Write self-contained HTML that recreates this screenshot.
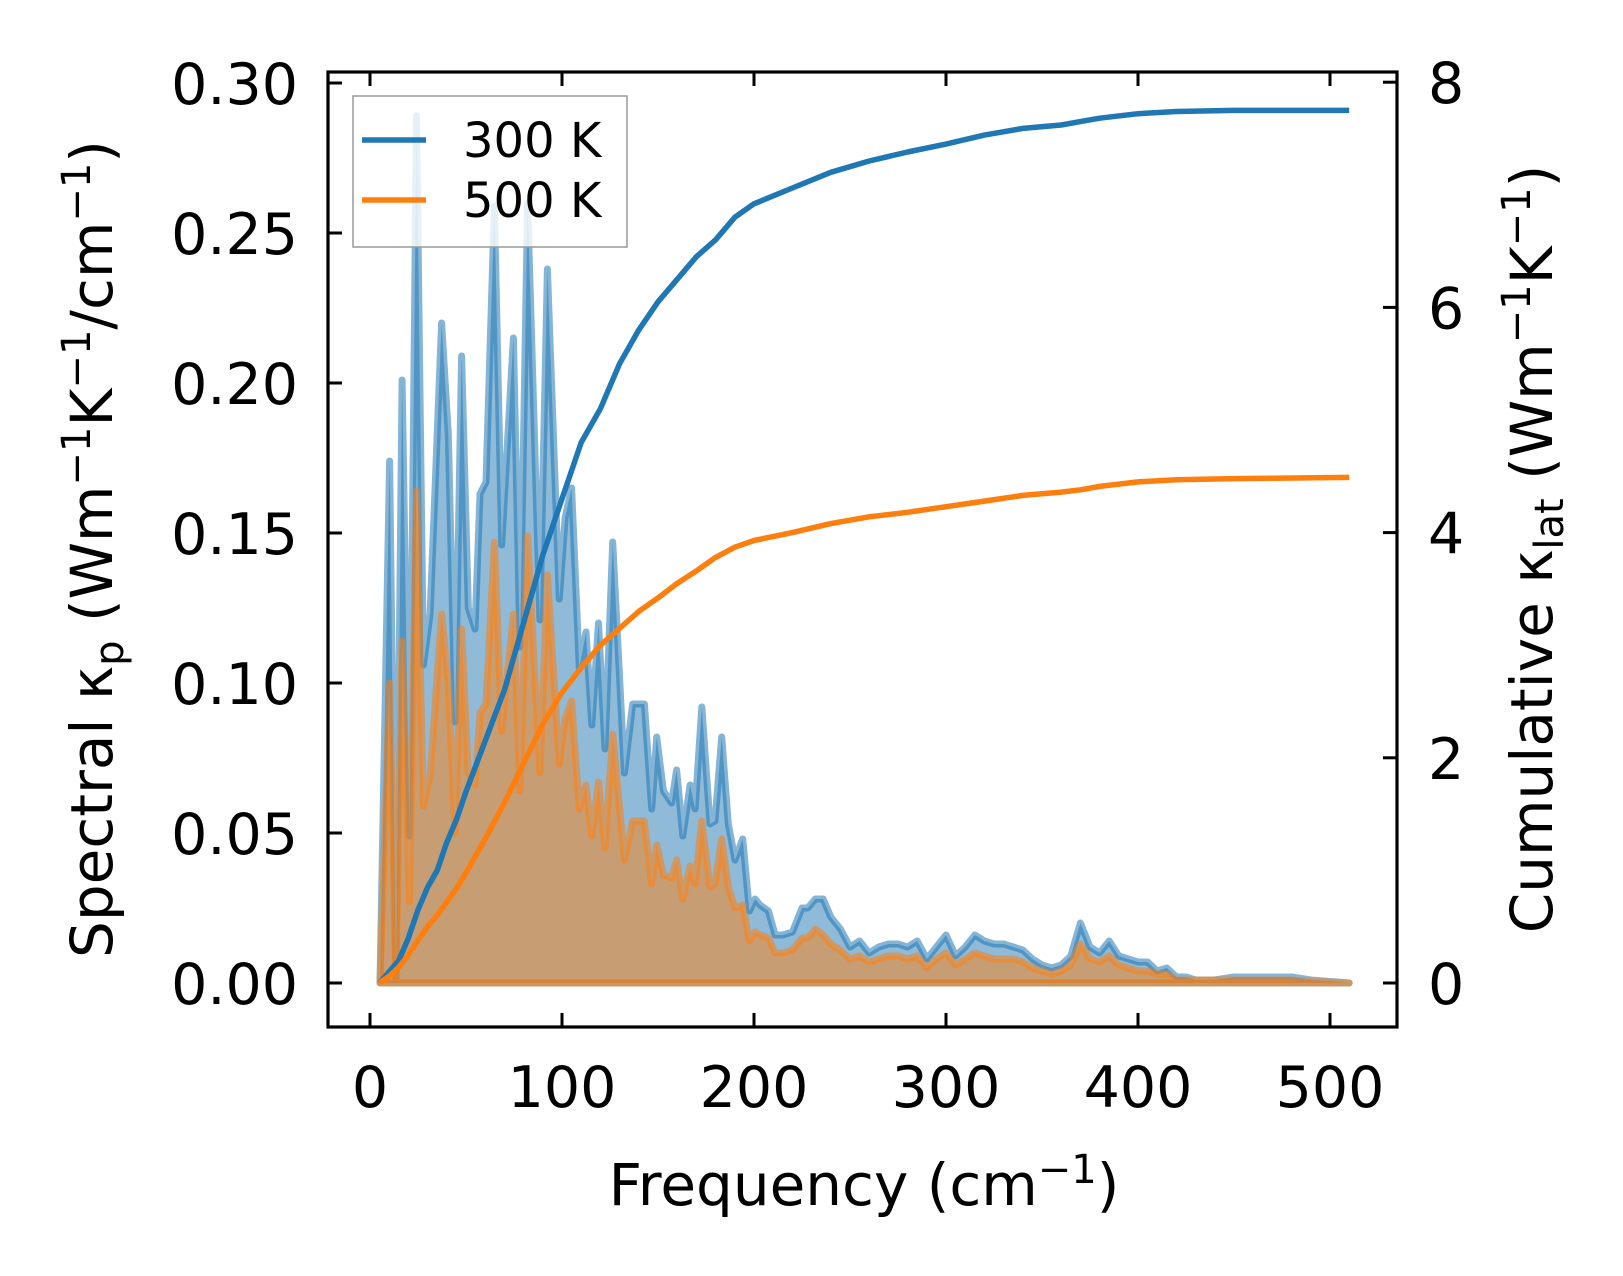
<!DOCTYPE html>
<html><head><meta charset="utf-8"><style>
html,body{margin:0;padding:0;background:#fff}
svg{display:block;font-family:"DejaVu Sans","Liberation Sans",sans-serif}
</style></head><body>
<svg id="chart" width="1623" height="1276" viewBox="0 0 1623 1276" xmlns="http://www.w3.org/2000/svg">
<g id="plot"></g>
</svg>
<script>
const freq=[5.2,10.2,13.5,16.7,20.5,24.2,27.8,31.3,37.3,40.8,44.3,47.7,51.2,54.7,57.3,60.4,64.8,68.6,74.7,78.1,82.1,88.5,92.4,98.6,101.6,105,109,112.5,115.5,119,122.4,126.4,132.5,136.8,142.9,146.7,149.3,152.8,157.1,159.7,162.9,166.7,169.3,172.8,177.1,179.7,183.2,186.6,190.1,194.1,197.6,200.5,203.1,207.5,211,215,220,225,228,232,236,240,245,250,255,260,265,270,275,280,285,290,295,300,305,310,315,320,325,330,335,340,345,350,355,360,365,370,375,380,385,390,395,400,405,410,415,420,425,430,440,450,460,470,480,490,500,510];
const kappa300=[0,0.174,0,0.201,0.049,0.289,0.106,0.123,0.220,0.183,0.087,0.209,0.125,0.118,0.163,0.167,0.259,0.146,0.215,0.112,0.260,0.121,0.238,0.128,0.155,0.165,0.105,0.117,0.086,0.120,0.078,0.147,0.070,0.093,0.093,0.058,0.082,0.064,0.060,0.071,0.049,0.066,0.058,0.092,0.053,0.054,0.082,0.053,0.041,0.048,0.024,0.028,0.026,0.024,0.016,0.016,0.017,0.025,0.025,0.028,0.028,0.022,0.018,0.012,0.014,0.010,0.012,0.013,0.013,0.012,0.014,0.008,0.012,0.016,0.009,0.012,0.016,0.014,0.013,0.013,0.012,0.011,0.008,0.006,0.005,0.006,0.009,0.020,0.012,0.010,0.014,0.009,0.008,0.007,0.007,0.004,0.005,0.002,0.002,0.001,0.001,0.002,0.002,0.002,0.002,0.001,0.0005,0];
const kappa500=[0,0.100,0,0.114,0.027,0.164,0.059,0.069,0.123,0.100,0.050,0.118,0.070,0.066,0.090,0.093,0.147,0.084,0.123,0.064,0.149,0.070,0.136,0.073,0.088,0.094,0.058,0.066,0.049,0.067,0.045,0.083,0.041,0.054,0.054,0.033,0.046,0.036,0.035,0.041,0.028,0.039,0.033,0.054,0.032,0.033,0.048,0.032,0.025,0.026,0.014,0.017,0.016,0.015,0.010,0.010,0.011,0.015,0.015,0.018,0.016,0.013,0.011,0.008,0.009,0.007,0.008,0.009,0.009,0.008,0.009,0.005,0.008,0.010,0.006,0.008,0.010,0.009,0.008,0.008,0.008,0.007,0.005,0.004,0.003,0.004,0.006,0.013,0.008,0.007,0.009,0.006,0.005,0.004,0.004,0.003,0.003,0.001,0.001,0.001,0.001,0.001,0.001,0.001,0.001,0.0005,0.0003,0];
const cumFreq=[5,10,15,20,25,30,35,40,45,50,60,70,80,90,100,110,120,130,140,150,160,170,180,190,200,220,240,260,280,300,320,340,360,370,380,400,420,450,510];
const cum300=[0,0.1,0.2,0.4,0.65,0.85,1.0,1.25,1.45,1.7,2.15,2.6,3.2,3.8,4.3,4.8,5.1,5.5,5.8,6.05,6.25,6.45,6.6,6.8,6.92,7.06,7.2,7.3,7.38,7.45,7.53,7.59,7.62,7.65,7.68,7.72,7.74,7.75,7.75];
const cum500=[0,0.06,0.14,0.25,0.38,0.5,0.6,0.72,0.84,0.98,1.28,1.6,1.95,2.3,2.58,2.8,3.0,3.15,3.3,3.42,3.55,3.66,3.78,3.87,3.93,4.0,4.08,4.14,4.18,4.23,4.28,4.33,4.36,4.38,4.41,4.45,4.47,4.48,4.49];
const xTicks=[0,100,200,300,400,500];
const yTicks=[0,0.05,0.10,0.15,0.20,0.25,0.30];
const yTickLabels=["0.00","0.05","0.10","0.15","0.20","0.25","0.30"];
const y2Ticks=[0,2,4,6,8];

const L=328,R=1397,T=72,B=1027;
const X=f=>370+f*1.92;
const Y=v=>983-v*3000;
const Y2=v=>983-v*112.6;
const NS="http://www.w3.org/2000/svg";
const g=document.getElementById('plot');
function mk(tag,attrs,parent){const e=document.createElementNS(NS,tag);for(const k in attrs)e.setAttribute(k,attrs[k]);(parent||g).appendChild(e);return e;}

function area(vals,color,name){
  let d=`M${X(freq[0])},${Y(0)}`;
  freq.forEach((f,i)=>{d+=` L${X(f).toFixed(1)},${Y(vals[i]).toFixed(1)}`;});
  d+=` L${X(freq[freq.length-1])},${Y(0)} Z`;
  const p=mk('path',{d,fill:color,'fill-opacity':0.5,stroke:color,'stroke-opacity':0.55,'stroke-width':7,'stroke-linejoin':'round'});
  
  
}
area(kappa300,'#1f77b4','spectral-area-300k');
area(kappa500,'#ff7f0e','spectral-area-500k');

function line(xs,vals,color,name){
  const pts=xs.map((f,i)=>`${X(f).toFixed(1)},${Y2(vals[i]).toFixed(1)}`).join(' ');
  const p=mk('polyline',{points:pts,fill:'none',stroke:color,'stroke-width':5.5,'stroke-linejoin':'round'});
  
  
}
line(cumFreq,cum300,'#1f77b4','cumulative-line-300k');
line(cumFreq,cum500,'#ff7f0e','cumulative-line-500k');

const frame=mk('rect',{x:L,y:T,width:R-L,height:B-T,fill:'none',stroke:'#000','stroke-width':3.2});



xTicks.forEach(t=>{
  const x=X(t);
  mk('line',{x1:x,y1:B,x2:x,y2:B-14,stroke:'#000','stroke-width':3});
  mk('line',{x1:x,y1:T,x2:x,y2:T+14,stroke:'#000','stroke-width':3});
  const tx=mk('text',{x:x,y:1107,'font-size':57,'text-anchor':'middle',fill:'#000'});
  tx.textContent=t;
  
  
});
yTicks.forEach((t,i)=>{
  const y=Y(t);
  mk('line',{x1:L,y1:y,x2:L+14,y2:y,stroke:'#000','stroke-width':3});
  const tx=mk('text',{x:298,y:y+21,'font-size':57,'text-anchor':'end',fill:'#000'});
  tx.textContent=yTickLabels[i];
  
  
});
y2Ticks.forEach(t=>{
  const y=Y2(t);
  mk('line',{x1:R,y1:y,x2:R-14,y2:y,stroke:'#000','stroke-width':3});
  const tx=mk('text',{x:1428,y:y+21,'font-size':57,'text-anchor':'start',fill:'#000'});
  tx.textContent=t;
  
  
});
</script>
<svg style="position:absolute;left:0;top:0" width="1623" height="1276" xmlns="http://www.w3.org/2000/svg" font-family="DejaVu Sans, Liberation Sans, sans-serif">
<text x="864" y="1205" font-size="58" text-anchor="middle">Frequency (cm<tspan dy="-22" font-size="40">−1</tspan><tspan dy="22">)</tspan></text>
<text transform="translate(112,549) rotate(-90)" font-size="58" text-anchor="middle">Spectral κ<tspan dy="11" font-size="40">p</tspan><tspan dy="-11"> (Wm</tspan><tspan dy="-22" font-size="40">−1</tspan><tspan dy="22">K</tspan><tspan dy="-22" font-size="40">−1</tspan><tspan dy="22">/cm</tspan><tspan dy="-22" font-size="40">−1</tspan><tspan dy="22">)</tspan></text>
<text transform="translate(1552,549) rotate(-90)" font-size="58" text-anchor="middle">Cumulative κ<tspan dy="11" font-size="40">lat</tspan><tspan dy="-11"> (Wm</tspan><tspan dy="-22" font-size="40">−1</tspan><tspan dy="22">K</tspan><tspan dy="-22" font-size="40">−1</tspan><tspan dy="22">)</tspan></text>
<g>
<rect x="353" y="96" width="274" height="151" fill="#fff" fill-opacity="0.8" stroke="#999" stroke-width="1.5"/>
<line x1="362" y1="140" x2="426" y2="140" stroke="#1f77b4" stroke-width="5.5"/>
<text x="463" y="157" font-size="48">300 K</text>
<line x1="362" y1="200" x2="426" y2="200" stroke="#ff7f0e" stroke-width="5.5"/>
<text x="463" y="217" font-size="48">500 K</text>
</g>
</svg>
</body></html>
